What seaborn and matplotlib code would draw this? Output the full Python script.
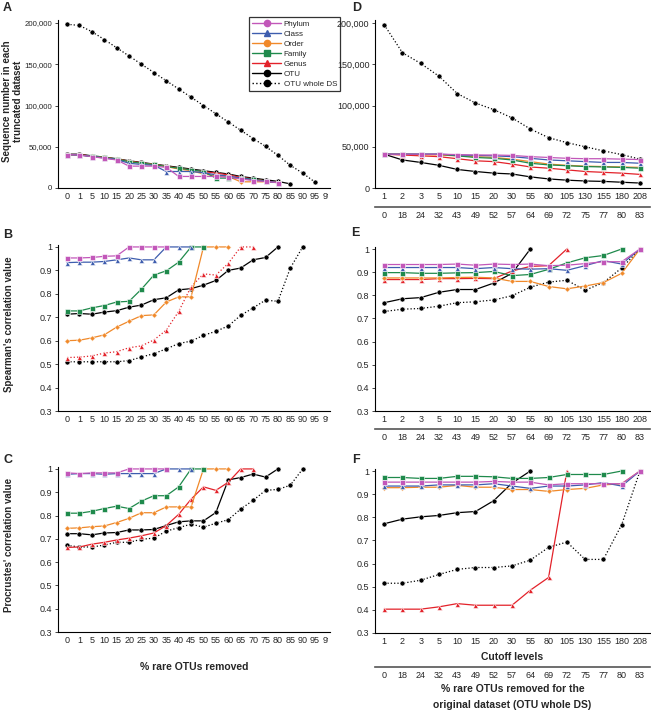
import numpy as np
import seaborn as sns
import matplotlib.pyplot as plt
from matplotlib.lines import Line2D
from matplotlib.ticker import FuncFormatter
from matplotlib.transforms import Bbox, TransformedBbox

# x categories
pct_removed = ["0", "1", "5", "10", "15", "20", "25", "30", "35", "40", "45",
               "50", "55", "60", "65", "70", "75", "80", "85", "90", "95", "99"]
cutoffs = ["1", "2", "3", "5", "10", "15", "20", "30", "55", "80", "105",
           "130", "155", "180", "208"]
pct_whole_ds = ["0", "18", "24", "32", "43", "49", "52", "57", "64", "69",
                "72", "75", "77", "80", "83"]

# A: sequence number (thousands) per % rare OTUs removed
seq_trunc = {
    "Phylum": [40.5, 40, 38, 36, 34, 26.5, 26.5, 26.5, 25, 14, 14, 14, 14, 13, 11, 9, 8, 6.5],
    "Class": [40.5, 40, 38, 36.5, 34.5, 30, 28.5, 27.5, 20, 20, 20, 18.5, 16, 14.5, 12, 10, 8, 6.5],
    "Order": [40.5, 40, 38.5, 37, 35, 32, 30, 28.5, 26, 23, 21, 17, 15, 14, 7.5, 7.5, 7.5, 6.5],
    "Family": [40.5, 40, 38.5, 37, 35, 32, 30, 28.5, 26, 24, 22, 20, 12, 12, 12.5, 10.5, 8.5, 6.5],
    "Genus": [40.5, 40.5, 38.5, 37, 35, 32.5, 30.5, 28.5, 26.5, 24, 22, 20, 18, 16, 13, 11, 8.5, 7],
    "OTU": [41, 41, 39, 37.5, 35.5, 33, 31, 29, 27, 25, 23, 21, 19, 17, 14, 12, 10, 8, 5],
    "OTU whole DS": [198.5, 197, 189.5, 180, 170, 160, 150, 140, 130, 120, 110, 100, 90,
                     80, 70, 60, 50.5, 39.5, 27.5, 18, 7],
}

# B: Spearman's correlation per % rare OTUs removed
spearman_trunc = {
    "Phylum": [0.953, 0.953, 0.955, 0.96, 0.962, 1, 1, 1, 1],
    "Class": [0.933, 0.935, 0.935, 0.938, 0.945, 0.953, 0.945, 0.945, 1, 1, 1],
    "Order": [0.6, 0.602, 0.612, 0.625, 0.658, 0.683, 0.707, 0.71, 0.765, 0.787, 0.787, 1, 1, 1],
    "Family": [0.727, 0.727, 0.74, 0.75, 0.765, 0.768, 0.82, 0.88, 0.898, 0.935, 1, 1],
    "Genus": [0.528, 0.53, 0.535, 0.547, 0.553, 0.57, 0.578, 0.603, 0.645, 0.725, 0.83,
              0.885, 0.88, 0.93, 1, 1],
    "OTU": [0.713, 0.716, 0.713, 0.722, 0.728, 0.743, 0.752, 0.775, 0.783, 0.817, 0.822,
            0.837, 0.857, 0.9, 0.91, 0.945, 0.955, 1],
    "OTU whole DS": [0.51, 0.51, 0.51, 0.51, 0.51, 0.515, 0.53, 0.545, 0.565, 0.588, 0.598,
                     0.623, 0.64, 0.663, 0.708, 0.74, 0.773, 0.768, 0.91, 1],
}

# C: Procrustes' correlation per % rare OTUs removed
procrustes_trunc = {
    "Phylum": [0.983, 0.98, 0.983, 0.983, 0.983, 1, 1, 1, 1],
    "Class": [0.977, 0.98, 0.98, 0.977, 0.98, 0.98, 0.98, 0.98, 1, 1, 1],
    "Order": [0.745, 0.747, 0.752, 0.755, 0.77, 0.788, 0.812, 0.812, 0.837, 0.837, 0.837, 1, 1, 1],
    "Family": [0.81, 0.81, 0.818, 0.83, 0.84, 0.83, 0.862, 0.885, 0.885, 0.923, 1, 1],
    "Genus": [0.663, 0.665, 0.677, 0.685, 0.695, 0.703, 0.713, 0.725, 0.757, 0.805, 0.87,
              0.923, 0.908, 0.943, 1, 1],
    "OTU": [0.722, 0.722, 0.717, 0.725, 0.727, 0.738, 0.738, 0.74, 0.757, 0.773, 0.777,
            0.777, 0.813, 0.953, 0.963, 0.978, 0.965, 1],
    "OTU whole DS": [0.672, 0.665, 0.665, 0.673, 0.685, 0.685, 0.698, 0.703, 0.733, 0.748,
                     0.763, 0.75, 0.767, 0.782, 0.828, 0.865, 0.908, 0.912, 0.93, 1],
}

# D: sequence number (thousands) per cutoff level
seq_cutoff = {
    "Phylum": [41, 41, 41, 41, 40.5, 40, 40, 39.5, 38, 37, 36, 35.5, 35.5, 35, 34.5],
    "Class": [41, 41, 41, 41, 40, 39.5, 39, 38, 36, 34, 33, 32, 31, 31, 30],
    "Order": [41, 41, 40.5, 40, 39, 38, 37, 35, 32, 29, 27.5, 26.5, 26, 25.5, 25],
    "Family": [41, 41, 41, 41, 39, 37, 36, 34, 30, 28, 27, 26, 25.5, 25, 24],
    "Genus": [41, 40, 39, 38, 35.5, 33, 32, 29, 25.5, 24, 22, 20, 19, 18, 16.5],
    "OTU": [41, 34, 31, 27.5, 22.5, 20, 18, 17, 13.5, 11, 9.5, 8.5, 8, 7, 6],
    "OTU whole DS": [198, 164, 151, 135.5, 114.5, 103, 95, 85, 71.5, 61, 55, 50, 45, 40.5, 35],
}

# E: Spearman's correlation per cutoff level
spearman_cutoff = {
    "Phylum": [0.933, 0.933, 0.933, 0.933, 0.935, 0.93, 0.935, 0.933, 0.935, 0.928, 0.93,
               0.937, 0.945, 0.945, 1],
    "Class": [0.92, 0.92, 0.92, 0.92, 0.92, 0.915, 0.92, 0.915, 0.913, 0.915, 0.908, 0.928,
              0.95, 0.935, 1],
    "Order": [0.875, 0.875, 0.875, 0.875, 0.877, 0.878, 0.875, 0.86, 0.86, 0.838, 0.828,
              0.84, 0.855, 0.895, 1],
    "Family": [0.898, 0.898, 0.895, 0.895, 0.897, 0.898, 0.903, 0.885, 0.89, 0.912, 0.94,
               0.962, 0.972, 1],
    "Genus": [0.868, 0.868, 0.868, 0.872, 0.872, 0.873, 0.872, 0.905, 0.925, 0.928, 1],
    "OTU": [0.768, 0.785, 0.79, 0.813, 0.825, 0.825, 0.853, 0.895, 1],
    "OTU whole DS": [0.73, 0.74, 0.743, 0.753, 0.768, 0.772, 0.78, 0.798, 0.835, 0.857,
                     0.865, 0.822, 0.855, 0.918, 1],
}

# F: Procrustes' correlation per cutoff level
procrustes_cutoff = {
    "Phylum": [0.952, 0.952, 0.952, 0.952, 0.952, 0.952, 0.955, 0.952, 0.952, 0.94, 0.945,
               0.945, 0.945, 0.945, 1],
    "Class": [0.935, 0.935, 0.935, 0.94, 0.94, 0.94, 0.945, 0.935, 0.925, 0.935, 0.935,
              0.94, 0.95, 0.935, 1],
    "Order": [0.928, 0.928, 0.93, 0.93, 0.938, 0.93, 0.93, 0.92, 0.92, 0.912, 0.92, 0.925,
              0.94, 0.945, 1],
    "Family": [0.972, 0.972, 0.968, 0.968, 0.977, 0.977, 0.975, 0.968, 0.968, 0.972, 0.985,
               0.985, 0.985, 1],
    "Genus": [0.403, 0.403, 0.403, 0.413, 0.427, 0.42, 0.42, 0.42, 0.485, 0.54, 1],
    "OTU": [0.772, 0.792, 0.802, 0.808, 0.82, 0.825, 0.872, 0.948, 1],
    "OTU whole DS": [0.515, 0.515, 0.528, 0.553, 0.575, 0.583, 0.583, 0.59, 0.615, 0.67,
                     0.693, 0.618, 0.618, 0.768, 1],
}

legend_order = ["Phylum", "Class", "Order", "Family", "Genus", "OTU", "OTU whole DS"]
draw_order = ["OTU whole DS", "OTU", "Genus", "Order", "Family", "Class", "Phylum"]

styles = {
    "Phylum": dict(color="#C257B9", marker="s"),
    "Class": dict(color="#3E5DAE", marker="^"),
    "Order": dict(color="#F0892A", marker="D"),
    "Family": dict(color="#1F8A4C", marker="s"),
    "Genus": dict(color="#E3222A", marker="^"),
    "OTU": dict(color="black", marker="o"),
    "OTU whole DS": dict(color="black", marker="o"),
}

sns.set_style("ticks")
plt.rcParams["font.family"] = ["Liberation Sans", "DejaVu Sans"]

W, H = 651, 711
fig = plt.figure(figsize=(W / 100, H / 100), dpi=100)


def px_axes(left, top, right, bottom):
    return fig.add_axes([left / W, 1 - bottom / H, (right - left) / W, (bottom - top) / H])


def draw_panel(ax, values, cats, scale=1.0, genus_ls="-", fs=6.5):
    for name in draw_order:
        vals = np.array(values[name]) * scale
        ls = ":" if name == "OTU whole DS" else "-"
        if name == "Genus":
            ls = genus_ls
        st = styles[name]
        sns.lineplot(x=np.arange(len(vals)), y=vals, ax=ax, color=st["color"],
                     marker=st["marker"], markersize=3.6 if st["marker"] != "D" else 2.8,
                     markeredgewidth=0.4, linestyle=ls, linewidth=0.9,
                     clip_on=False, legend=False)
    ax.set_xticks(range(len(cats)), cats)
    ax.tick_params(axis="x", length=0, pad=3, labelsize=fs)
    ax.tick_params(axis="y", length=2, width=0.6, pad=2, labelsize=fs)
    ax.set_xlabel("")
    ax.set_ylabel("")
    sns.despine(ax=ax)
    for s in ["left", "bottom"]:
        ax.spines[s].set_linewidth(0.8)
        ax.spines[s].set_color("black")


def seq_axis(ax):
    ax.set_ylim(0, 204000)
    ax.set_yticks(range(0, 200001, 50000))
    ax.yaxis.set_major_formatter(FuncFormatter(lambda v, p: f"{v:,.0f}"))


def corr_axis(ax):
    ax.set_ylim(0.3, 1.01)
    ticks = [0.3, 0.4, 0.5, 0.6, 0.7, 0.8, 0.9, 1.0]
    ax.set_yticks(ticks, ["0.3", "0.4", "0.5", "0.6", "0.7", "0.8", "0.9", "1"])


def pct_row(ax, offset, label=None):
    sec = ax.secondary_xaxis(offset)
    sec.set_xticks(range(len(pct_whole_ds)), pct_whole_ds)
    sec.tick_params(length=0, pad=3, labelsize=6.5)
    for s in sec.spines.values():
        s.set_color("#555555")
        s.set_linewidth(1.2)
    if label:
        sec.set_xlabel(label, fontsize=7.5, fontweight="bold", labelpad=3, linespacing=1.75)
    return sec


# left column
ax_a = px_axes(58, 19.7, 330, 188)
ax_b = px_axes(58, 244.6, 330, 411)
ax_c = px_axes(58, 466.6, 330, 632)
# right column
ax_d = px_axes(375, 19.7, 650, 188)
ax_e = px_axes(375, 246.7, 650, 411)
ax_f = px_axes(375, 468.7, 650, 633)

draw_panel(ax_a, seq_trunc, pct_removed, scale=1000)
seq_axis(ax_a)
ax_a.tick_params(axis="y", labelsize=5.6)
draw_panel(ax_b, spearman_trunc, pct_removed, genus_ls=":")
corr_axis(ax_b)
draw_panel(ax_c, procrustes_trunc, pct_removed)
corr_axis(ax_c)
clip = TransformedBbox(Bbox([[0, 0], [328 / W, 1]]), fig.transFigure)
for ax in [ax_a, ax_b, ax_c]:
    ax.set_xlim(-0.73, 21.2)
    # the "99" label is cut at the panel edge
    last = ax.get_xticklabels()[-1]
    last.set_clip_box(clip)
    last.set_clip_on(True)

draw_panel(ax_d, seq_cutoff, cutoffs, scale=1000)
seq_axis(ax_d)
draw_panel(ax_e, spearman_cutoff, cutoffs)
corr_axis(ax_e)
draw_panel(ax_f, procrustes_cutoff, cutoffs)
corr_axis(ax_f)
for ax in [ax_d, ax_e, ax_f]:
    ax.set_xlim(-0.5, 14.55)

pct_row(ax_d, -0.113)
pct_row(ax_e, -0.11)
pct_row(ax_f, -0.207, "% rare OTUs removed for the\noriginal dataset (OTU whole DS)")

ax_c.set_xlabel("% rare OTUs removed", fontsize=7.5, fontweight="bold", labelpad=12)
ax_f.set_xlabel("Cutoff levels", fontsize=7.5, fontweight="bold", labelpad=4)

# y labels
fig.text(12.5 / W, 1 - 101 / H, "Sequence number in each\ntruncated dataset", rotation=90,
         ha="center", va="center", fontsize=7, fontweight="bold", linespacing=1.05)
fig.text(9 / W, 1 - 324 / H, "Spearman's correlation value", rotation=90,
         ha="center", va="center", fontsize=7, fontweight="bold")
fig.text(9 / W, 1 - 545 / H, "Procrustes' correlation value", rotation=90,
         ha="center", va="center", fontsize=7, fontweight="bold")

# panel letters
for lbl, x, y in [("A", 3, 8), ("B", 3, 235), ("C", 3, 460),
                  ("D", 352, 8), ("E", 351, 233), ("F", 352, 460)]:
    fig.text(x / W, 1 - y / H, lbl, ha="left", va="center", fontsize=9, fontweight="bold")

# legend
handles = []
for name in legend_order:
    st = styles[name]
    mk = "o" if name in ("Phylum", "Order") else st["marker"]
    handles.append(Line2D([], [], color=st["color"], marker=mk, markersize=4.5,
                          linewidth=1, linestyle=":" if name == "OTU whole DS" else "-"))
leg = ax_a.legend(handles, legend_order, loc="upper left",
                  bbox_to_anchor=(249 / W, 1 - 17 / H), bbox_transform=fig.transFigure,
                  frameon=True, fancybox=False, edgecolor="black", fontsize=5.8,
                  handlelength=3.6, labelspacing=0.3, borderpad=0.4,
                  handletextpad=0.3, borderaxespad=0)
leg.get_frame().set_linewidth(0.9)

plt.savefig("out.png", dpi=100)
